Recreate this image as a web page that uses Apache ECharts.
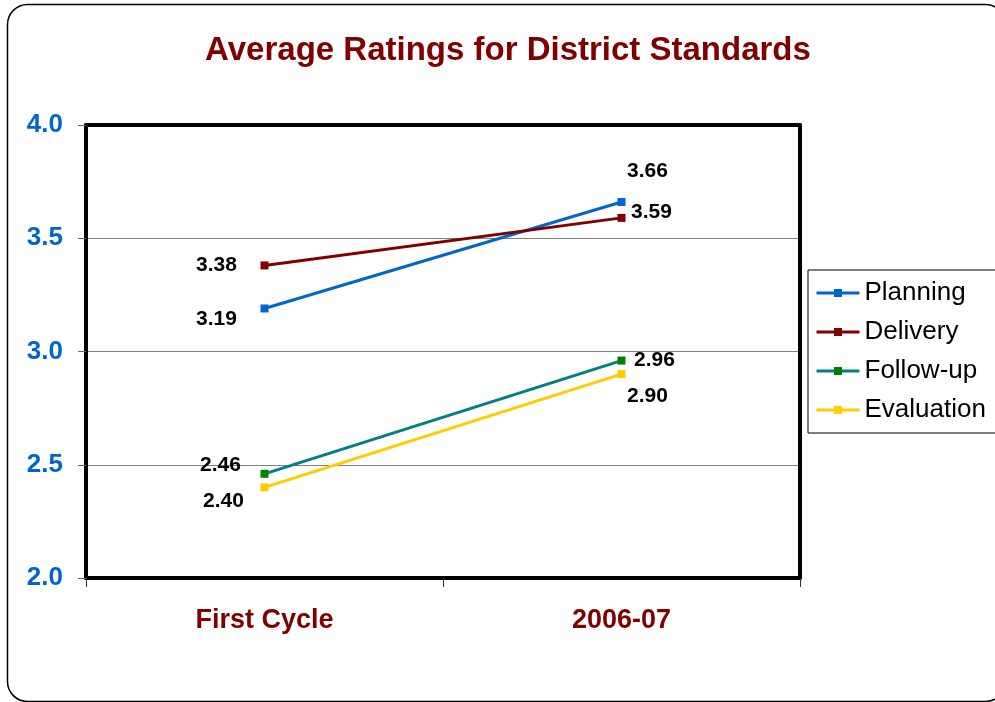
<!DOCTYPE html>
<html>
<head>
<meta charset="utf-8">
<script src="https://cdn.jsdelivr.net/npm/echarts@6/dist/echarts.min.js"></script>
<style>
html,body{margin:0;padding:0;background:#fff;}
#c{width:995px;height:702px;}
</style>
</head>
<body>
<div id="c"></div>
<script>
const categories = ['First Cycle', '2006-07'];
const seriesNames = ['Planning', 'Delivery', 'Follow-up', 'Evaluation'];
const planning = [3.19, 3.66];
const delivery = [3.38, 3.59];
const followUp = [2.46, 2.96];
const evaluation = [2.40, 2.90];
const yTicks = [2.0, 2.5, 3.0, 3.5, 4.0];

const FONT = '"Liberation Sans", Arial, sans-serif';
const lineColors = ['#0066CC', '#800000', '#008080', '#FFCC00'];
const markColors = ['#0066CC', '#800000', '#008000', '#FFCC00'];
// label offsets per series per point (styling only)
const labelOffsets = [
  [[-48, 11], [26, -31]],
  [[-48, 0], [30, -6]],
  [[-44, -9], [33, 0]],
  [[-41, 14], [26, 22]]
];
const values = [planning, delivery, followUp, evaluation];

const yMin = yTicks[0], yMax = yTicks[yTicks.length - 1];
const frameLine = {show: true, onZero: false, lineStyle: {color: '#000', width: 4}};

const chart = echarts.init(document.getElementById('c'), null, {renderer: 'canvas'});
chart.setOption({
  animation: false,
  backgroundColor: '#fff',
  title: {
    text: 'Average Ratings for District Standards',
    left: 503, top: 29, textAlign: 'center',
    textStyle: {fontFamily: FONT, fontSize: 33, fontWeight: 'bold', color: '#800000'}
  },
  graphic: [{
    type: 'rect', silent: true,
    shape: {x: 7.5, y: 4.5, width: 998, height: 697, r: 20},
    style: {fill: 'none', stroke: '#000', lineWidth: 1.5}
  }],
  legend: {
    orient: 'vertical', left: 808, top: 270,
    padding: [10, 30, 10, 7],
    itemGap: 13, itemWidth: 43, itemHeight: 10,
    borderColor: '#000', borderWidth: 1,
    lineStyle: {width: 3},
    textStyle: {fontFamily: FONT, fontSize: 26, color: '#000', lineHeight: 26},
    data: seriesNames
  },
  grid: {
    left: 86, right: 195, top: 125, bottom: 124
  },
  xAxis: [{
    type: 'category', data: categories, boundaryGap: true,
    axisLine: frameLine,
    axisTick: {show: true, length: 9, lineStyle: {color: '#333', width: 1}},
    axisLabel: {margin: 29, fontFamily: FONT, fontSize: 27, fontWeight: 'bold', color: '#800000'}
  }, {
    type: 'category', data: categories, position: 'top',
    axisLine: frameLine, axisTick: {show: false}, axisLabel: {show: false}, splitLine: {show: false}
  }],
  yAxis: [{
    type: 'value', min: yMin, max: yMax, interval: 0.5,
    axisLine: frameLine,
    axisTick: {show: true, length: 8, lineStyle: {color: '#666', width: 1}},
    splitLine: {show: true, lineStyle: {color: '#808080', width: 1}},
    axisLabel: {margin: 23, fontFamily: FONT, fontSize: 26, fontWeight: 'bold', color: '#0066CC',
      formatter: v => v.toFixed(1)}
  }, {
    type: 'value', min: yMin, max: yMax, interval: 0.5, position: 'right',
    axisLine: frameLine, axisTick: {show: false}, axisLabel: {show: false}, splitLine: {show: false}
  }],
  series: seriesNames.map((name, i) => ({
    name: name, type: 'line',
    symbol: 'rect', symbolSize: 8,
    lineStyle: {color: lineColors[i], width: 3},
    itemStyle: {color: markColors[i]},
    data: values[i].map((v, j) => ({
      value: v,
      label: {
        show: true, position: 'inside', offset: labelOffsets[i][j],
        formatter: p => p.value.toFixed(2),
        fontFamily: FONT, fontSize: 21, fontWeight: 'bold', color: '#000'
      }
    }))
  }))
});
</script>
</body>
</html>
